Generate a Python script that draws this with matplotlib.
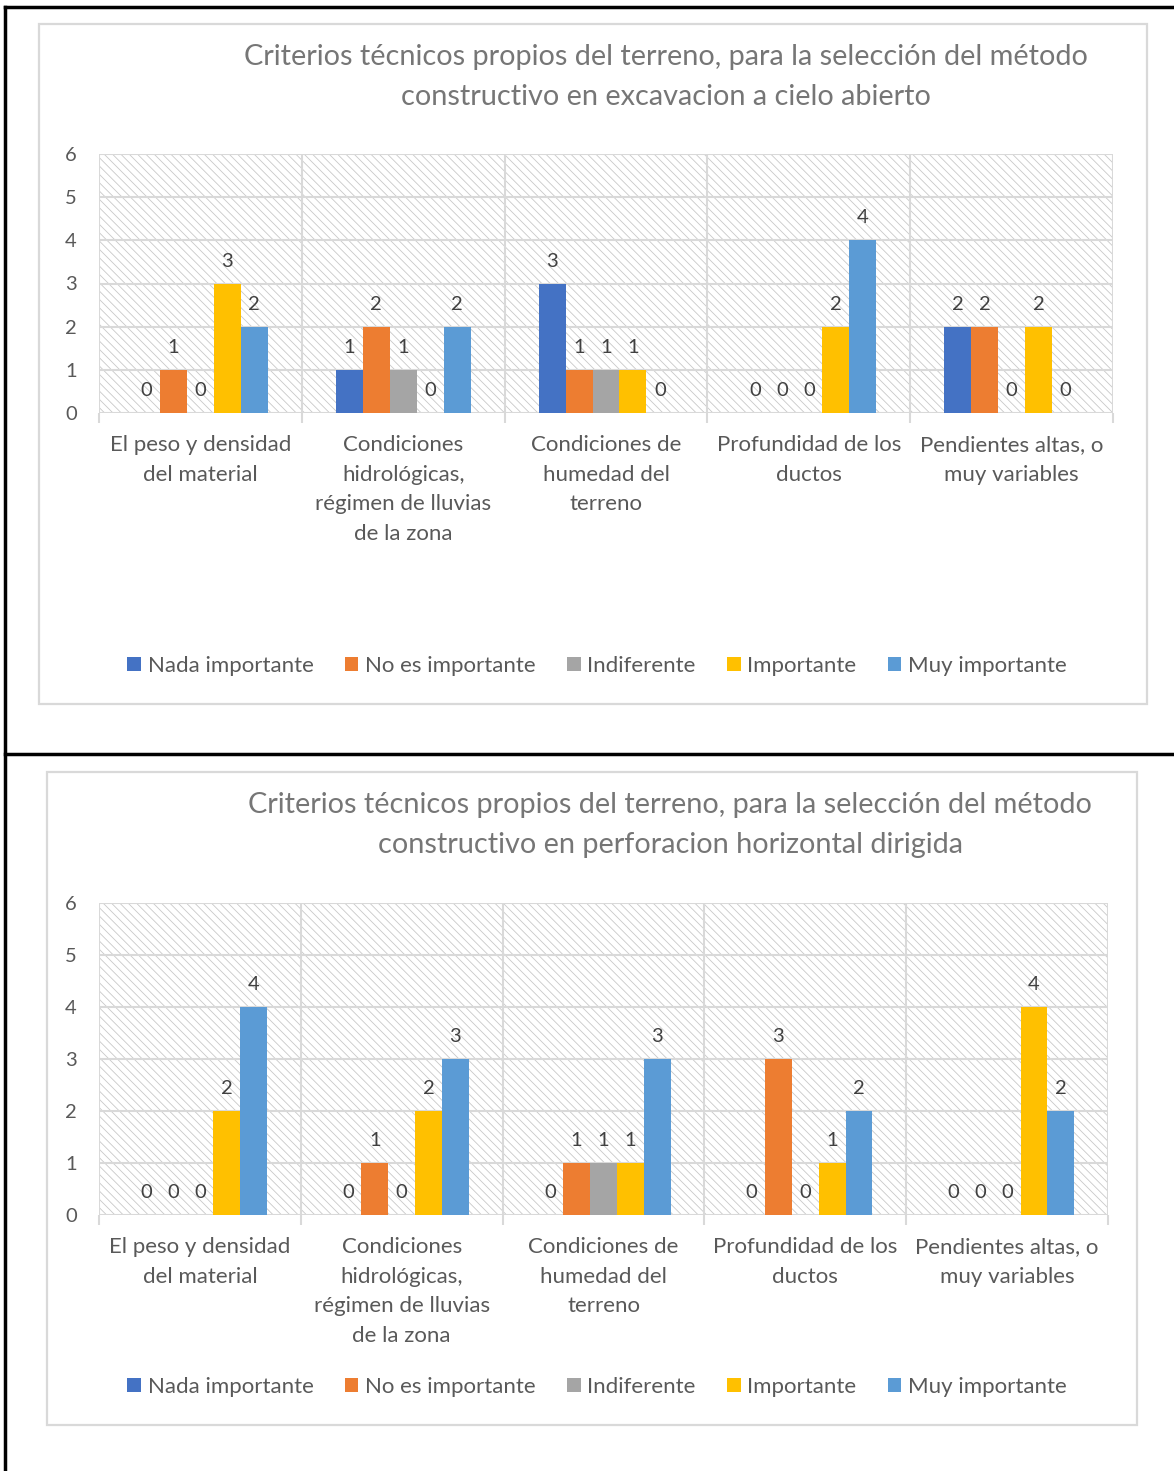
import matplotlib
matplotlib.use("Agg")
import matplotlib.pyplot as plt
import numpy as np
from matplotlib.patches import Rectangle, Patch
from matplotlib.lines import Line2D

# Datos
categorias = ["El peso y densidad\ndel material",
              "Condiciones\nhidrológicas,\nrégimen de lluvias\nde la zona",
              "Condiciones de\nhumedad del\nterreno",
              "Profundidad de los\nductos",
              "Pendientes altas, o\nmuy variables"]
series = ["Nada importante", "No es importante", "Indiferente", "Importante", "Muy importante"]
colores = ["#4472C4", "#ED7D31", "#A5A5A5", "#FFC000", "#5B9BD5"]

# excavacion a cielo abierto (una lista por serie)
cielo_nada = [0, 1, 3, 0, 2]
cielo_noes = [1, 2, 1, 0, 2]
cielo_indif = [0, 1, 1, 0, 0]
cielo_imp = [3, 0, 1, 2, 2]
cielo_muy = [2, 2, 0, 4, 0]

# perforacion horizontal dirigida
hdd_nada = [0, 0, 0, 0, 0]
hdd_noes = [0, 1, 1, 3, 0]
hdd_indif = [0, 0, 1, 0, 0]
hdd_imp = [2, 2, 1, 1, 4]
hdd_muy = [4, 3, 3, 2, 2]

titulo1 = "Criterios técnicos propios del terreno, para la selección del método\nconstructivo en excavacion a cielo abierto"
titulo2 = "Criterios técnicos propios del terreno, para la selección del método\nconstructivo en perforacion horizontal dirigida"

plt.rcParams['font.family'] = ['Lato', 'DejaVu Sans']
plt.rcParams['hatch.linewidth'] = 0.6
W, H = 1174, 1471
fig = plt.figure(figsize=(W / 100, H / 100), dpi=100)

gris_txt = "#595959"
gris_grid = "#d9d9d9"


def fx(px):
    return px / W


def fy(py):
    return 1 - py / H


def grafico(box, area, valores, titulo, titulo_xy, leyenda_xy):
    x0, y0, x1, y1 = box
    fig.add_artist(Rectangle((fx(x0), fy(y1)), fx(x1 - x0), (y1 - y0) / H,
                             transform=fig.transFigure, facecolor="white",
                             edgecolor=gris_grid, lw=1.6, zorder=0))
    l, t, r, b = area
    ax = fig.add_axes([fx(l), fy(b), fx(r - l), (b - t) / H])
    ax.set_xlim(0, 5)
    ax.set_ylim(0, 6)
    ax.patch.set_facecolor("white")
    ax.add_patch(Rectangle((0, 0), 1, 1, transform=ax.transAxes, facecolor="white",
                           edgecolor="#c8c8c8", hatch="\\\\\\\\", lw=0, zorder=0))
    for s in ax.spines.values():
        s.set_visible(False)

    n = len(series)
    ancho = 0.133
    x = np.arange(len(categorias)) + 0.5
    for i, (nombre, vals) in enumerate(zip(series, valores)):
        pos = x + (i - (n - 1) / 2) * ancho
        bars = ax.bar(pos, vals, width=ancho, color=colores[i], zorder=3, label=nombre)
        ax.bar_label(bars, padding=10, fontsize=14.5, color="#404040")

    ax.set_xticks(np.arange(6))
    ax.set_xticklabels([])
    ax.tick_params(axis="x", which="major", length=7, color=gris_grid, width=1.5)
    ax.set_xticks(x, minor=True)
    ax.set_xticklabels(categorias, minor=True, fontsize=16, color=gris_txt, linespacing=1.6)
    ax.tick_params(axis="x", which="minor", length=0, pad=16)
    ax.set_yticks(range(7))
    ax.tick_params(axis="y", length=0, pad=16, labelsize=14.5, labelcolor=gris_txt)
    ax.grid(True, which="major", color=gris_grid, lw=1.5, zorder=1)
    ax.set_axisbelow(True)

    fig.text(fx(titulo_xy[0]), fy(titulo_xy[1]), titulo, ha="center", va="center", fontsize=20.8,
             color="#767676", linespacing=1.65)

    handles = [Patch(facecolor=c, edgecolor="none") for c in colores]
    fig.legend(handles, series, loc="center", bbox_to_anchor=(fx(leyenda_xy[0]), fy(leyenda_xy[1])),
               ncol=5, frameon=False, fontsize=16, labelcolor=gris_txt,
               handlelength=0.62, handleheight=0.62, handletextpad=0.3, columnspacing=1.4)


grafico((39, 24, 1147, 704), (99, 154, 1113, 413),
        [cielo_nada, cielo_noes, cielo_indif, cielo_imp, cielo_muy], titulo1, (666, 77), (597, 666))
grafico((47, 772, 1137, 1425), (99, 903, 1108, 1215),
        [hdd_nada, hdd_noes, hdd_indif, hdd_imp, hdd_muy], titulo2, (670, 825), (597, 1387))

# marco negro
lw = 2.5
fig.add_artist(Line2D([fx(5), 1], [fy(7), fy(7)], color="black", lw=lw, transform=fig.transFigure))
fig.add_artist(Line2D([fx(5), 1], [fy(754), fy(754)], color="black", lw=lw, transform=fig.transFigure))
fig.add_artist(Line2D([fx(5), fx(5)], [fy(7), 0], color="black", lw=lw, transform=fig.transFigure))

fig.savefig("out.png", dpi=100, facecolor="white")
